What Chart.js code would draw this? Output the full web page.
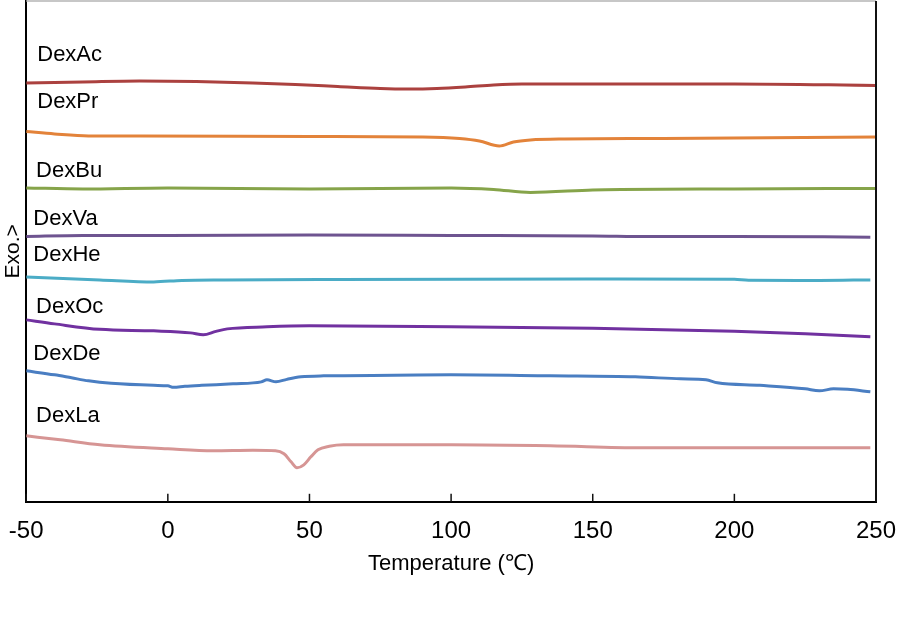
<!DOCTYPE html>
<html>
<head>
<meta charset="utf-8">
<script src="https://cdn.jsdelivr.net/npm/chart.js@4/dist/chart.umd.min.js"></script>
<style>
  html, body { margin: 0; padding: 0; background: #fff; }
  #wrap { width: 898px; height: 628px; }
</style>
</head>
<body>
<div id="wrap"><canvas id="dsc"></canvas></div>
<script>
// DSC curves, signal in arbitrary units (stacked offsets)
const names = ["DexAc", "DexPr", "DexBu", "DexVa", "DexHe", "DexOc", "DexDe", "DexLa"];
const colors = ["#ab413f", "#e3833a", "#86a44a", "#6e5490", "#4bacc6", "#7131a0", "#4a7ec2", "#d69594"];

const acTemp = [-50, -30, -10, 10, 30, 45, 60, 75, 85, 95, 105, 115, 125, 150, 200, 250];
const acSig  = [419, 420, 421, 420.5, 419, 417.5, 415.5, 413.5, 413, 413.5, 415, 417, 418, 418, 418, 416.5];

const prTemp = [-50, -40, -28, -10, 50, 90, 103, 110, 117, 122, 128, 140, 175, 250];
const prSig  = [370.5, 368, 366, 366, 365.5, 365, 363.5, 361, 356, 360, 362, 363, 363.5, 365];

const buTemp = [-50, -30, 0, 50, 100, 115, 128, 150, 160, 200, 250];
const buSig  = [314, 313, 314, 313, 314, 312.5, 309.5, 312, 312.5, 313, 313.5];

const vaTemp = [-50, -30, 0, 50, 100, 150, 170, 200, 248];
const vaSig  = [265.5, 266.5, 266.5, 267, 266.5, 266, 265.3, 265.5, 264.7];

const heTemp = [-50, -24, -5, 5, 20, 60, 150, 200, 205, 230, 248];
const heSig  = [225, 222, 220, 221.5, 222, 222.5, 223, 222.7, 221.7, 221.5, 222];

const ocTemp = [-50, -40, -24, -5, 8, 12.5, 17, 21, 35, 50, 100, 150, 200, 225, 248];
const ocSig  = [182, 178, 172.5, 171, 169, 167, 170.5, 173, 175, 176, 175, 173.5, 170.5, 168, 165];

const deTemp = [-50, -40, -34, -28, -20, -5, 0, 2, 6, 12, 23, 33, 35, 38.2, 42, 47, 55, 80, 100, 135, 165, 181, 190, 194, 209, 225, 230, 235, 240, 248];
const deSig  = [131, 127, 124, 121, 118.5, 116.5, 116, 114.5, 115.5, 116.5, 118, 120, 122, 120, 122.5, 125, 126, 126.5, 127, 126, 125, 123, 122, 119, 116.5, 113, 111, 113, 112.5, 110];

const laTemp = [-50, -38, -24, 0, 16, 30, 38, 41, 43.5, 45.6, 48, 50.5, 53, 57, 62, 100, 135, 167, 200, 248];
const laSig  = [66, 62, 57, 53, 51, 51.5, 51, 48, 40, 34, 37, 45, 52, 55.5, 57, 57, 56, 54, 54, 54];

// where each sample name sits (temperature, signal)
const labelTemp = [-46.1, -46.1, -46.5, -47.5, -47.5, -46.5, -47.5, -46.5];
const labelSig  = [447, 400, 331, 283, 247, 195, 148, 86];

const xTicks = [-50, 0, 50, 100, 150, 200, 250];

const temps = [acTemp, prTemp, buTemp, vaTemp, heTemp, ocTemp, deTemp, laTemp];
const sigs  = [acSig, prSig, buSig, vaSig, heSig, ocSig, deSig, laSig];

function toPoints(t, s) {
    return t.map((v, i) => ({ x: v, y: s[i] }));
}

const datasets = names.map((n, i) => {
    return {
        label: n,
        data: toPoints(temps[i], sigs[i]),
        borderColor: colors[i],
        borderWidth: 3,
        pointRadius: 0,
        cubicInterpolationMode: 'monotone',
        fill: false
    };
});

const FONT = "'Liberation Sans', Arial, sans-serif";

const decor = {
    id: 'decor',
    afterDatasetsDraw(chart) {
        const ctx = chart.ctx;
        const xs = chart.scales.x;
        const ys = chart.scales.y;
        const area = chart.chartArea;
        ctx.save();
        // frame: grey top, dark right
        ctx.lineWidth = 1.5;
        ctx.strokeStyle = "#b5b5b5";
        ctx.beginPath();
        ctx.moveTo(area.left, area.top);
        ctx.lineTo(area.right, area.top);
        ctx.stroke();
        ctx.lineWidth = 2;
        ctx.strokeStyle = "#111";
        ctx.beginPath();
        ctx.moveTo(area.right, area.top);
        ctx.lineTo(area.right, area.bottom);
        ctx.stroke();
        // inward tick marks
        ctx.lineWidth = 1.5;
        xTicks.forEach(t => {
            const px = xs.getPixelForValue(t);
            ctx.beginPath();
            ctx.moveTo(px, area.bottom);
            ctx.lineTo(px, area.bottom - 8);
            ctx.stroke();
        });
        // series names
        ctx.fillStyle = "#000";
        ctx.font = "22px " + FONT;
        ctx.textAlign = "left";
        ctx.textBaseline = "middle";
        names.forEach((n, i) => {
            ctx.fillText(n, xs.getPixelForValue(labelTemp[i]), ys.getPixelForValue(labelSig[i]));
        });
        ctx.restore();
    }
};

new Chart(document.getElementById("dsc"), {
    type: 'line',
    data: { datasets: datasets },
    options: {
        responsive: true,
        maintainAspectRatio: false,
        animation: false,
        layout: {
            padding: { left: 1, right: 22, top: 1, bottom: 51 }
        },
        plugins: {
            legend: { display: false },
            tooltip: { enabled: false }
        },
        scales: {
            x: {
                type: 'linear',
                min: -50,
                max: 250,
                afterBuildTicks: (axis) => { axis.ticks = xTicks.map(v => ({ value: v })); },
                grid: { display: false, drawTicks: true, tickLength: 15.6 },
                border: { display: true, color: "#000", width: 2 },
                ticks: {
                    padding: 0,
                    color: "#000",
                    font: { family: FONT, size: 24 }
                },
                title: {
                    display: true,
                    text: "Temperature (℃)",
                    color: "#000",
                    padding: { top: 4.4, bottom: 0 },
                    font: { family: FONT, size: 22 }
                }
            },
            y: {
                type: 'linear',
                min: 0,
                max: 501,
                grid: { display: false, drawTicks: false },
                border: { display: true, color: "#000", width: 2 },
                ticks: { display: false },
                title: {
                    display: true,
                    text: "Exo.>",
                    color: "#000",
                    padding: 0,
                    font: { family: FONT, size: 21 }
                }
            }
        }
    },
    plugins: [decor]
});
</script>
</body>
</html>
